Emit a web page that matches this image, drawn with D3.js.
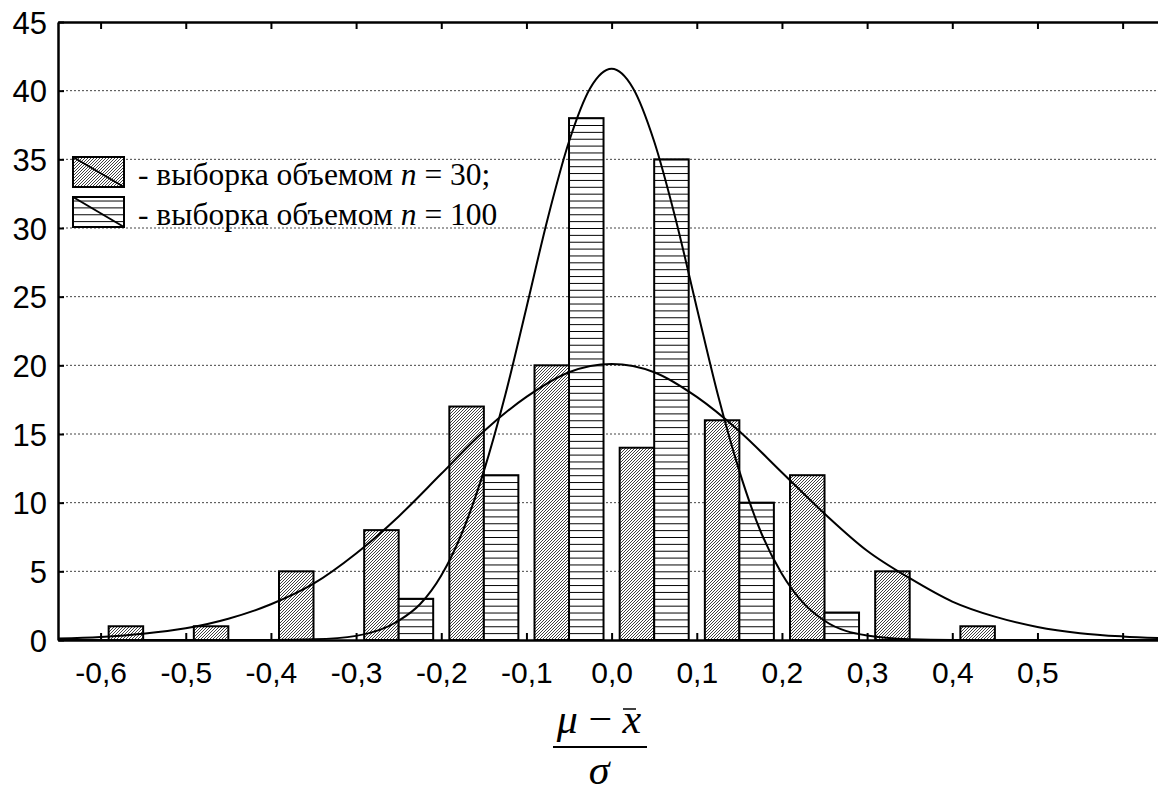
<!DOCTYPE html>
<html>
<head>
<meta charset="utf-8">
<script src="https://cdn.jsdelivr.net/npm/d3@7"></script>
<style>
  body { margin: 0; background: #fff; }
  svg { display: block; }
</style>
</head>
<body>
<svg id="chart" width="1158" height="792"></svg>
<script>
// bin centres (the bars sit between the labelled ticks)
const binCenters = [-0.55, -0.45, -0.35, -0.25, -0.15, -0.05, 0.05, 0.15, 0.25, 0.35, 0.45];
// frequencies
const sample30 = [1, 1, 5, 8, 17, 20, 14, 16, 12, 5, 1];
const sample100 = [0, 0, 0, 3, 12, 38, 35, 10, 2, 0, 0];

const xTicks = [-0.6, -0.5, -0.4, -0.3, -0.2, -0.1, 0.0, 0.1, 0.2, 0.3, 0.4, 0.5, 0.6];
const xTickLabels = ["-0,6", "-0,5", "-0,4", "-0,3", "-0,2", "-0,1", "0,0", "0,1", "0,2", "0,3", "0,4", "0,5", ""];
const yTicks = [0, 5, 10, 15, 20, 25, 30, 35, 40, 45];

// fitted curves
const wideX = [-0.65, -0.6, -0.55, -0.5, -0.45, -0.4, -0.35, -0.3, -0.25, -0.2, -0.15, -0.1, -0.05, 0,
  0.05, 0.1, 0.15, 0.2, 0.25, 0.3, 0.35, 0.4, 0.45, 0.5, 0.55, 0.6, 0.65];
const wideY = [0.1, 0.22, 0.45, 0.85, 1.55, 2.6, 4.1, 6.3, 9.0, 12.1, 15.2, 17.7, 19.5, 20.1,
  19.5, 17.7, 15.2, 12.2, 9.2, 6.5, 4.5, 2.8, 1.7, 0.95, 0.5, 0.26, 0.12];
const narrowX = [-0.65, -0.4, -0.35, -0.3, -0.25, -0.225, -0.2, -0.175, -0.15, -0.125, -0.1, -0.075, -0.05, -0.025, 0,
  0.025, 0.05, 0.075, 0.1, 0.125, 0.15, 0.175, 0.2, 0.225, 0.25, 0.3, 0.35, 0.4, 0.65];
const narrowY = [0, 0, 0.05, 0.3, 1.4, 2.6, 4.7, 7.9, 12.3, 17.8, 24.2, 30.7, 36.3, 40.2, 41.6,
  40.2, 36.3, 30.7, 24.2, 17.8, 12.3, 7.9, 4.8, 2.7, 1.4, 0.32, 0.05, 0, 0];

var svg = d3.select("#chart");
var plotLeft = 58, plotTop = 22, plotBottom = 640;

// x runs past the right edge of the picture
var x = d3.scaleLinear().domain([-0.65, 0.65]).range([plotLeft, plotLeft + 1.3 * 851.7]);
var y = d3.scaleLinear().domain([0, 45]).range([plotBottom, plotTop]);

// patterns
var defs = svg.append("defs");
var diag = defs.append("pattern")
  .attr("id", "diag")
  .attr("patternUnits", "userSpaceOnUse")
  .attr("width", 3).attr("height", 3);
diag.append("rect").attr("width", 3).attr("height", 3).attr("fill", "#fff");
diag.append("path")
  .attr("d", "M-1,1 l2,-2 M0,3 l3,-3 M2,4 l2,-2")
  .attr("stroke", "#000").attr("stroke-width", 0.75);

var horiz = defs.append("pattern")
  .attr("id", "horiz")
  .attr("patternUnits", "userSpaceOnUse")
  .attr("y", plotBottom)
  .attr("width", 10).attr("height", y(0) - y(0.5));
horiz.append("rect").attr("width", 10).attr("height", 10).attr("fill", "#fff");
horiz.append("line")
  .attr("x1", 0).attr("x2", 10).attr("y1", 0.5).attr("y2", 0.5)
  .attr("stroke", "#000").attr("stroke-width", 1);

// grid lines
svg.append("g")
  .selectAll("line")
  .data(yTicks.filter(d => d > 0 && d < 45))
  .enter().append("line")
  .attr("x1", plotLeft).attr("x2", 1158)
  .attr("y1", d => y(d)).attr("y2", d => y(d))
  .attr("stroke", "#444").attr("stroke-width", 1)
  .attr("stroke-dasharray", "2,2");

// bars: two bars per bin
var groupWidth = x(0.1) - x(0);
var inner = d3.scaleBand().domain(["n30", "n100"]).range([0, groupWidth]).paddingOuter(0.234);

var bars = svg.append("g");
bars.selectAll(".b30")
  .data(binCenters)
  .enter().append("rect")
  .attr("class", "b30")
  .attr("x", d => x(d - 0.05) + inner("n30"))
  .attr("y", (d, i) => y(sample30[i]))
  .attr("width", inner.bandwidth())
  .attr("height", (d, i) => y(0) - y(sample30[i]))
  .attr("fill", "url(#diag)")
  .attr("stroke", "#000").attr("stroke-width", 2);

bars.selectAll(".b100")
  .data(binCenters.filter((d, i) => sample100[i] > 0))
  .enter().append("rect")
  .attr("class", "b100")
  .attr("x", d => x(d - 0.05) + inner("n100"))
  .attr("y", d => y(sample100[binCenters.indexOf(d)]))
  .attr("width", inner.bandwidth())
  .attr("height", d => y(0) - y(sample100[binCenters.indexOf(d)]))
  .attr("fill", "url(#horiz)")
  .attr("stroke", "#000").attr("stroke-width", 2);

// curves
var line = d3.line().curve(d3.curveMonotoneX);
svg.append("path")
  .attr("d", line(wideX.map((d, i) => [x(d), y(wideY[i])])))
  .attr("fill", "none").attr("stroke", "#000").attr("stroke-width", 2);
svg.append("path")
  .attr("d", line(narrowX.map((d, i) => [x(d), y(narrowY[i])])))
  .attr("fill", "none").attr("stroke", "#000").attr("stroke-width", 2);

// axes
var xAxis = svg.append("g").attr("transform", "translate(0," + plotBottom + ")")
  .call(d3.axisBottom(x).tickValues(xTicks).tickSizeInner(-7).tickSizeOuter(0)
    .tickFormat((d, i) => xTickLabels[i]));
xAxis.select(".domain").attr("stroke-width", 2.5);
xAxis.selectAll(".tick line").attr("stroke-width", 2);
xAxis.selectAll("text")
  .attr("y", 43).attr("dy", 0)
  .attr("font-family", "Liberation Sans, Arial, sans-serif")
  .attr("font-size", 30).attr("fill", "#000");

var topAxis = svg.append("g").attr("transform", "translate(0," + plotTop + ")")
  .call(d3.axisTop(x).tickValues(xTicks).tickSizeInner(-7).tickSizeOuter(0).tickFormat(""));
topAxis.select(".domain").attr("stroke-width", 2.5);
topAxis.selectAll(".tick line").attr("stroke-width", 2);

var yAxis = svg.append("g").attr("transform", "translate(" + plotLeft + ",0)")
  .call(d3.axisLeft(y).tickValues(yTicks).tickSizeInner(-6).tickSizeOuter(0));
yAxis.select(".domain").attr("stroke-width", 2.5);
yAxis.selectAll(".tick line").attr("stroke-width", 2);
yAxis.selectAll("text")
  .attr("x", -11).attr("dy", "0.36em")
  .attr("font-family", "Liberation Sans, Arial, sans-serif")
  .attr("font-size", 31).attr("fill", "#000");

// legend
const legendLabels = ["30;", "100"];
const legendFills = ["url(#diag)", "url(#horiz)"];
var legend = svg.append("g");
legendLabels.forEach(function (lab, i) {
  var ly = 157 + i * 40;
  legend.append("rect")
    .attr("x", 73).attr("y", ly).attr("width", 51).attr("height", 30)
    .attr("fill", legendFills[i]).attr("stroke", "#000").attr("stroke-width", 2);
  legend.append("line")
    .attr("x1", 73).attr("y1", ly).attr("x2", 124).attr("y2", ly + 30)
    .attr("stroke", "#000").attr("stroke-width", 2);
  var t = legend.append("text")
    .attr("x", 138).attr("y", ly + 28)
    .attr("font-family", "Liberation Serif, Times New Roman, serif")
    .attr("font-size", 31.5).attr("fill", "#000");
  t.append("tspan").text("- выборка объемом ");
  t.append("tspan").attr("font-style", "italic").text("n");
  t.append("tspan").text(" = " + lab);
});

// axis title: (mu - x bar) / sigma
var title = svg.append("g").attr("font-family", "Liberation Serif, Times New Roman, serif")
  .attr("font-size", 42).attr("fill", "#000");
var num = title.append("text").attr("x", 599).attr("y", 733).attr("text-anchor", "middle");
num.append("tspan").attr("font-style", "italic").text("μ");
num.append("tspan").text(" − ");
num.append("tspan").attr("font-style", "italic").text("x");
title.append("line")
  .attr("x1", 623).attr("x2", 636).attr("y1", 709).attr("y2", 709)
  .attr("stroke", "#000").attr("stroke-width", 1.5);
title.append("line")
  .attr("x1", 553).attr("x2", 647).attr("y1", 747).attr("y2", 747)
  .attr("stroke", "#000").attr("stroke-width", 1.8);
title.append("text").attr("x", 599).attr("y", 784).attr("text-anchor", "middle")
  .attr("font-style", "italic").text("σ");
</script>
</body>
</html>
